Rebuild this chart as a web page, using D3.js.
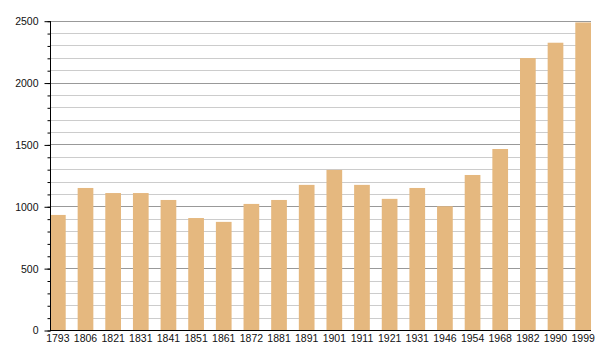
<!DOCTYPE html>
<html>
<head>
<meta charset="utf-8">
<script src="https://cdn.jsdelivr.net/npm/d3@7"></script>
<style>
  body { margin: 0; background: #fff; }
  text { font-family: "Liberation Sans", Arial, sans-serif; }
</style>
</head>
<body>
<script>
"use strict";
(function () {

    // years and population counts
    const years = ["1793", "1806", "1821", "1831", "1841", "1851", "1861", "1872", "1881", "1891",
        "1901", "1911", "1921", "1931", "1946", "1954", "1968", "1982", "1990", "1999"];
    const population = [930, 1148, 1107, 1107, 1051, 905, 874, 1019, 1051, 1173,
        1294, 1173, 1060, 1148, 1000, 1253, 1463, 2198, 2322, 2486];
    const majorTicks = [0, 500, 1000, 1500, 2000, 2500];

    // dimensions for svg
    const measurements = {
        width: 600,
        height: 360,
        left: 50,
        right: 591,
        top: 20.7,
        bottom: 330
    };

    const svg = d3.select("body").append("svg")
        .attr("width", measurements.width)
        .attr("height", measurements.height);

    const scaleX = d3.scaleBand()
        .domain(years)
        .range([measurements.left, measurements.right])
        .paddingInner(0.432)
        .paddingOuter(0);

    const scaleY = d3.scaleLinear()
        .domain([0, 2500])
        .range([measurements.bottom, measurements.top]);

    const minorTicks = d3.range(0, 2501, 100);

    // gridlines, minor first then major on top
    svg.append("g").selectAll("line")
        .data(minorTicks.filter(v => v % 500 !== 0))
        .enter().append("line")
        .attr("x1", measurements.left)
        .attr("x2", measurements.right)
        .attr("y1", d => Math.round(scaleY(d)) + 0.5)
        .attr("y2", d => Math.round(scaleY(d)) + 0.5)
        .attr("stroke", "#cccccc");

    svg.append("g").selectAll("line")
        .data(majorTicks.filter(v => v > 0))
        .enter().append("line")
        .attr("x1", measurements.left)
        .attr("x2", measurements.right)
        .attr("y1", d => Math.round(scaleY(d)) + 0.5)
        .attr("y2", d => Math.round(scaleY(d)) + 0.5)
        .attr("stroke", "#999999");

    // bars
    svg.append("g").selectAll("rect")
        .data(years)
        .enter().append("rect")
        .attr("x", d => scaleX(d))
        .attr("width", scaleX.bandwidth())
        .attr("y", (d, i) => scaleY(population[i]))
        .attr("height", (d, i) => scaleY(0) - scaleY(population[i]))
        .attr("fill", "#e5b87f");

    // y axis with minor ticks
    const yMinor = d3.axisLeft(scaleY)
        .tickValues(minorTicks)
        .tickSize(3)
        .tickFormat("");
    svg.append("g")
        .attr("transform", "translate(" + (measurements.left + 0.5) + ",0.5)")
        .call(yMinor)
        .call(g => g.select(".domain").remove())
        .call(g => g.selectAll("line").attr("stroke", "#000"));

    const yAxis = d3.axisLeft(scaleY)
        .tickValues(majorTicks)
        .tickSize(6)
        .tickPadding(6)
        .tickFormat(d3.format("d"));
    svg.append("g")
        .attr("transform", "translate(" + (measurements.left + 0.5) + ",0.5)")
        .call(yAxis)
        .call(g => g.select(".domain").attr("d", "M0," + measurements.top + "V" + measurements.bottom).attr("stroke", "#000"))
        .call(g => g.selectAll("text").attr("font-size", 10.5).attr("fill", "#111").attr("font-family", "Liberation Sans, Arial, sans-serif"));

    // x axis
    const xAxis = d3.axisBottom(scaleX)
        .tickSize(0)
        .tickPadding(4);
    svg.append("g")
        .attr("transform", "translate(0," + (measurements.bottom + 0.5) + ")")
        .call(xAxis)
        .call(g => g.select(".domain").attr("d", "M" + measurements.left + ",0H" + measurements.right).attr("stroke", "#000"))
        .call(g => g.selectAll("text").attr("font-size", 10.5).attr("fill", "#111").attr("font-family", "Liberation Sans, Arial, sans-serif"));

})();
</script>
</body>
</html>
